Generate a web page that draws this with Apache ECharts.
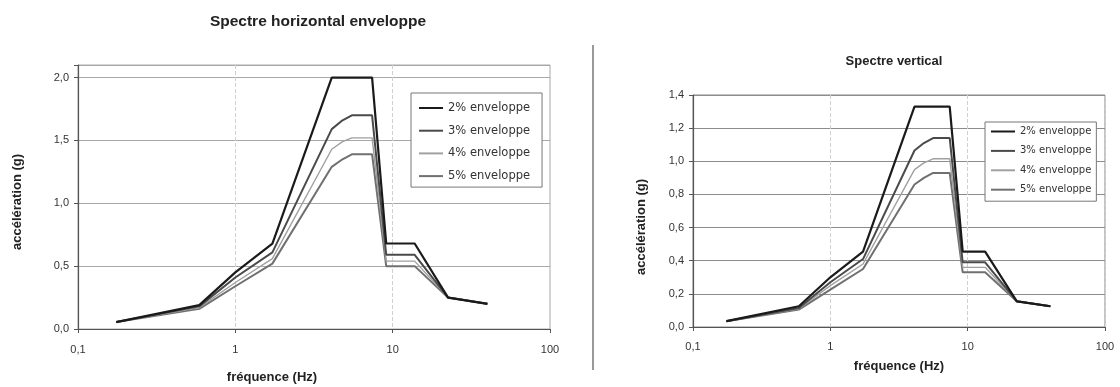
<!DOCTYPE html>
<html>
<head>
<meta charset="utf-8">
<script src="https://cdn.jsdelivr.net/npm/echarts@6/dist/echarts.min.js"></script>
<style>
html,body{margin:0;padding:0;background:#fff;}
#chart{width:1120px;height:387px;}
</style>
</head>
<body>
<div id="chart"></div>
<script>
// ---- data ----
const seriesNames = ['2% enveloppe', '3% enveloppe', '4% enveloppe', '5% enveloppe'];

// Spectre horizontal enveloppe
const freqH = [0.175, 0.59, 1.0, 1.72, 4.1, 4.8, 5.5, 7.4, 9.1, 13.8, 22.5, 40];
const horiz2 = [0.055, 0.19, 0.45, 0.68, 2.0, 2.0, 2.0, 2.0, 0.68, 0.68, 0.25, 0.20];
const horiz3 = [0.055, 0.18, 0.41, 0.61, 1.59, 1.66, 1.70, 1.70, 0.59, 0.59, 0.25, 0.20];
const horiz4 = [0.055, 0.17, 0.37, 0.56, 1.43, 1.49, 1.52, 1.52, 0.54, 0.54, 0.25, 0.20];
const horiz5 = [0.055, 0.16, 0.34, 0.52, 1.29, 1.35, 1.39, 1.39, 0.50, 0.50, 0.25, 0.20];

// Spectre vertical
const freqV = [0.175, 0.59, 1.0, 1.73, 4.1, 4.8, 5.6, 7.4, 9.2, 13.4, 22.8, 40];
const vert2 = [0.035, 0.125, 0.30, 0.455, 1.33, 1.33, 1.33, 1.33, 0.455, 0.455, 0.155, 0.125];
const vert3 = [0.035, 0.115, 0.27, 0.41, 1.065, 1.11, 1.14, 1.14, 0.39, 0.39, 0.155, 0.125];
const vert4 = [0.035, 0.11, 0.25, 0.38, 0.95, 0.99, 1.015, 1.015, 0.36, 0.36, 0.155, 0.125];
const vert5 = [0.035, 0.105, 0.225, 0.35, 0.86, 0.90, 0.93, 0.93, 0.33, 0.33, 0.155, 0.125];

const titleH = 'Spectre horizontal enveloppe';
const titleV = 'Spectre vertical';
const xTitle = 'fréquence (Hz)';
const yTitle = 'accélération (g)';

// ---- styling ----
const lineColors = ['#1a1a1a', '#4a4a4a', '#a0a0a0', '#707070'];
const lineWidths = [2.2, 2, 1.4, 2];
const FONT = 'Liberation Sans, Arial, sans-serif';

function pairs(xs, ys) { return xs.map((x, i) => [x, ys[i]]); }
function comma(v, d) { return v.toFixed(d).replace('.', ','); }

const hData = [horiz2, horiz3, horiz4, horiz5];
const vData = [vert2, vert3, vert4, vert5];

const series = [];
hData.forEach((ys, i) => series.push({
  name: seriesNames[i], type: 'line', xAxisIndex: 0, yAxisIndex: 0,
  data: pairs(freqH, ys), symbol: 'none', z: 10 - i,
  lineStyle: { color: lineColors[i], width: lineWidths[i] },
  itemStyle: { color: lineColors[i] }
}));
vData.forEach((ys, i) => series.push({
  name: seriesNames[i], type: 'line', xAxisIndex: 1, yAxisIndex: 1,
  data: pairs(freqV, ys), symbol: 'none', z: 10 - i,
  lineStyle: { color: lineColors[i], width: lineWidths[i] },
  itemStyle: { color: lineColors[i] }
}));

function xAxisCfg(gridIndex, nameGap, padRight, labelMargin) {
  return {
    type: 'log', logBase: 10, gridIndex: gridIndex, min: 0.1, max: 100,
    name: xTitle, nameLocation: 'middle', nameGap: nameGap,
    nameTextStyle: { fontFamily: FONT, fontWeight: 'bold', fontSize: 13, color: '#222', padding: [0, padRight, 0, 0] },
    axisLine: { show: true, lineStyle: { color: '#555', width: 1.2 } },
    axisTick: { show: true, inside: false, length: 4, lineStyle: { color: '#555' } },
    axisLabel: { fontFamily: FONT, fontSize: 11, color: '#333', margin: labelMargin,
      formatter: v => comma(v, v < 1 ? 1 : 0) },
    splitLine: { show: true, lineStyle: { color: '#d0d0d0', type: 'dashed', width: 1 } }
  };
}

function yAxisCfg(gridIndex, max, interval, nameGap, padRight, gridColor) {
  return {
    type: 'value', gridIndex: gridIndex, min: 0, max: max, interval: interval,
    name: yTitle, nameLocation: 'middle', nameGap: nameGap,
    nameTextStyle: { fontFamily: FONT, fontWeight: 'bold', fontSize: 13, color: '#222', padding: [0, padRight, 0, 0] },
    axisLine: { show: true, lineStyle: { color: '#555', width: 1.2 } },
    axisTick: { show: true, inside: false, length: 4, lineStyle: { color: '#555' } },
    axisLabel: { fontFamily: FONT, fontSize: 11, color: '#333', margin: 9,
      formatter: v => (Math.abs(v / interval - Math.round(v / interval)) > 1e-6) ? '' : comma(v, 1) },
    splitLine: { show: true, lineStyle: { color: gridColor, width: 1 } }
  };
}

function legendCfg(left, top, rowH, gap, pad, fs) {
  return {
    data: seriesNames, orient: 'vertical', left: left, top: top,
    itemWidth: 24, itemHeight: rowH, itemGap: gap, padding: pad,
    backgroundColor: '#fff', borderColor: '#777', borderWidth: 1,
    itemStyle: { color: 'transparent', borderColor: 'transparent', borderWidth: 0, opacity: 0 },
    textStyle: { fontFamily: 'DejaVu Sans, sans-serif', fontSize: fs, lineHeight: rowH, color: '#333' },
    selectedMode: false
  };
}

const chart = echarts.init(document.getElementById('chart'), null, { renderer: 'canvas' });
chart.setOption({
  backgroundColor: '#fff',
  animation: false,
  title: [
    { text: titleH, left: 313, top: 9, textAlign: 'center',
      textStyle: { fontFamily: FONT, fontWeight: 'bold', fontSize: 15.5, color: '#222' } },
    { text: titleV, left: 889, top: 50, textAlign: 'center',
      textStyle: { fontFamily: FONT, fontWeight: 'bold', fontSize: 13, color: '#222' } }
  ],
  grid: [
    { left: 78, right: 570, top: 65, bottom: 58, outerBoundsMode: 'none', containLabel: false,
      show: true, borderColor: '#aaa', borderWidth: 1, backgroundColor: 'transparent' },
    { left: 693, right: 15, top: 95, bottom: 60, outerBoundsMode: 'none', containLabel: false,
      show: true, borderColor: '#888', borderWidth: 1, backgroundColor: 'transparent' }
  ],
  xAxis: [xAxisCfg(0, 42, 84, 15), xAxisCfg(1, 33, 0, 14)],
  yAxis: [yAxisCfg(0, 2.1, 0.5, 54, 10, '#a8a8a8'), yAxisCfg(1, 1.4, 0.2, 45, 32, '#8c8c8c')],
  legend: [legendCfg(411, 93, 12, 10.7, [9, 12, 5, 7], 11.5), legendCfg(985, 122, 11, 8.4, [4, 5, 6, 5], 10)],
  graphic: [
    { type: 'line', shape: { x1: 593, y1: 45, x2: 593, y2: 370 },
      style: { stroke: '#777', lineWidth: 1.5 } }
  ],
  series: series
});
</script>
</body>
</html>
